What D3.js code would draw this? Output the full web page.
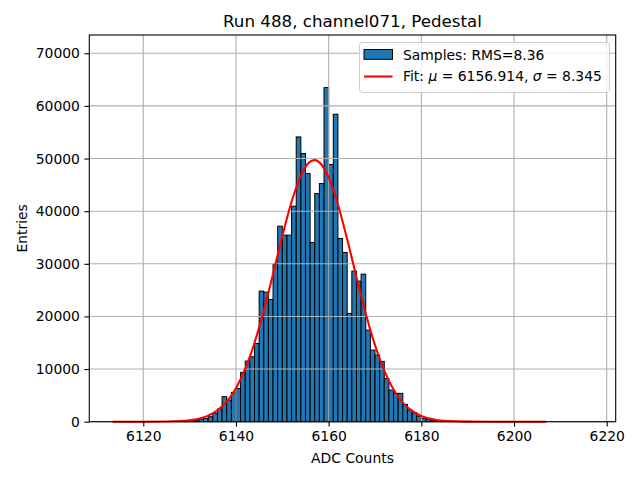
<!DOCTYPE html>
<html>
<head>
<meta charset="utf-8">
<script src="https://cdn.jsdelivr.net/npm/d3@7"></script>
<style>
  body { margin: 0; background: #fff; }
  text { font-family: "DejaVu Sans", sans-serif; fill: #000; }
</style>
</head>
<body>
<svg width="640" height="480"></svg>
<script>
// histogram bins (left edge, width 1 ADC count) and entries
const bins = [6127, 6128, 6129, 6130, 6131, 6132, 6133, 6134, 6135, 6136,
  6137, 6138, 6139, 6140, 6141, 6142, 6143, 6144, 6145, 6146,
  6147, 6148, 6149, 6150, 6151, 6152, 6153, 6154, 6155, 6156,
  6157, 6158, 6159, 6160, 6161, 6162, 6163, 6164, 6165, 6166,
  6167, 6168, 6169, 6170, 6171, 6172, 6173, 6174, 6175, 6176,
  6177, 6178, 6179, 6180, 6181, 6182, 6183, 6184, 6185];
const counts = [50, 80, 130, 190, 320, 440, 630, 950, 1580, 2400,
  4750, 4110, 5570, 6330, 9370, 11520, 12340, 14870, 24810, 24620,
  23230, 29940, 37150, 35440, 35440, 40950, 54110, 50950, 47150, 34050,
  43350, 45250, 63480, 48860, 58420, 34810, 32150, 20570, 28610, 26710,
  28040, 17400, 13610, 12660, 11450, 8200, 6010, 5380, 5380, 3290,
  2215, 1700, 1080, 630, 400, 250, 150, 100, 50];

// fit curve, points
const fitX = [6113.4, 6120, 6125, 6128, 6130, 6132, 6134, 6136, 6138, 6140,
  6142, 6144, 6146, 6148, 6150, 6152, 6154, 6156, 6157, 6158,
  6160, 6162, 6164, 6166, 6168, 6170, 6172, 6174, 6176, 6178,
  6180, 6183, 6186, 6190, 6195, 6207];
const fitY = [0, 3, 33, 123, 274, 580, 1147, 2157, 3800, 6370,
  10066, 15000, 21120, 28080, 35270, 41790, 46760, 49400, 49700, 49280,
  46410, 41270, 34660, 27470, 20570, 14540, 9700, 6110, 3630, 2040,
  1082, 375, 114, 19, 0, 0];

const xTicks = [6120, 6140, 6160, 6180, 6200, 6220];
const yTicks = [0, 10000, 20000, 30000, 40000, 50000, 60000, 70000];

const titleText = "Run 488, channel071, Pedestal";
const samplesLabel = "Samples: RMS=8.36";
const fitMu = "6156.914", fitSigma = "8.345";

const svg = d3.select("svg");
const plotLeft = 89.3, plotRight = 615.7, plotTop = 35, plotBottom = 421.7;

const x = d3.scaleLinear().domain([6108.35, 6221.94]).range([plotLeft, plotRight]);
const y = d3.scaleLinear().domain([0, 73475]).range([plotBottom, plotTop]);

// bars
const hist = bins.map((b, i) => ({ x0: b, x1: b + 1, n: counts[i] }));
svg.append("g")
  .selectAll("rect")
  .data(hist)
  .join("rect")
  .attr("x", d => x(d.x0))
  .attr("y", d => y(d.n))
  .attr("width", d => x(d.x1) - x(d.x0))
  .attr("height", d => y(0) - y(d.n))
  .attr("fill", "#1f77b4")
  .attr("stroke", "#000")
  .attr("stroke-width", 1);

// grid (above bars, below fit line like matplotlib)
const grid = svg.append("g").attr("stroke", "#b0b0b0").attr("stroke-width", 1.1);
xTicks.forEach(t => {
  grid.append("line").attr("x1", x(t)).attr("x2", x(t)).attr("y1", plotTop).attr("y2", plotBottom);
});
yTicks.forEach(t => {
  grid.append("line").attr("x1", plotLeft).attr("x2", plotRight).attr("y1", y(t)).attr("y2", y(t));
});

// fit line
const fitPts = fitX.map((v, i) => [v, fitY[i]]);
svg.append("path")
  .datum(fitPts)
  .attr("d", d3.line().x(d => x(d[0])).y(d => y(d[1])).curve(d3.curveMonotoneX))
  .attr("fill", "none")
  .attr("stroke", "red")
  .attr("stroke-width", 2.1);

// axes
const xAxis = svg.append("g")
  .attr("transform", `translate(0,${plotBottom})`)
  .call(d3.axisBottom(x).tickValues(xTicks).tickSize(4.9).tickPadding(4.5).tickFormat(d3.format("d")));
const yAxis = svg.append("g")
  .attr("transform", `translate(${plotLeft},0)`)
  .call(d3.axisLeft(y).tickValues(yTicks).tickSize(4.9).tickPadding(4.5).tickFormat(d3.format("d")));
[xAxis, yAxis].forEach(a => {
  a.select(".domain").remove();
  a.selectAll("line").attr("stroke", "#000").attr("stroke-width", 1.1);
  a.selectAll("text").attr("font-family", "DejaVu Sans").attr("font-size", 13.9).attr("fill", "#000");
});

// frame
svg.append("rect")
  .attr("x", plotLeft).attr("y", plotTop)
  .attr("width", plotRight - plotLeft).attr("height", plotBottom - plotTop)
  .attr("fill", "none").attr("stroke", "#000").attr("stroke-width", 1.1);

// labels
svg.append("text")
  .attr("x", (plotLeft + plotRight) / 2).attr("y", 27)
  .attr("text-anchor", "middle").attr("font-size", 16.7)
  .text(titleText);
svg.append("text")
  .attr("x", (plotLeft + plotRight) / 2).attr("y", 463)
  .attr("text-anchor", "middle").attr("font-size", 13.9)
  .text("ADC Counts");
svg.append("text")
  .attr("transform", `translate(26.5,${(plotTop + plotBottom) / 2}) rotate(-90)`)
  .attr("text-anchor", "middle").attr("font-size", 13.9)
  .text("Entries");

// legend
const legend = svg.append("g");
legend.append("rect")
  .attr("x", 359.5).attr("y", 42.5).attr("width", 250).attr("height", 50)
  .attr("rx", 3)
  .attr("fill", "#fff").attr("fill-opacity", 0.8)
  .attr("stroke", "#cccccc").attr("stroke-width", 1);
legend.append("rect")
  .attr("x", 364).attr("y", 49.5).attr("width", 28.5).attr("height", 9.8)
  .attr("fill", "#1f77b4").attr("stroke", "#000").attr("stroke-width", 1);
legend.append("text")
  .attr("x", 403).attr("y", 60).attr("font-size", 13.9)
  .text(samplesLabel);
legend.append("line")
  .attr("x1", 364).attr("x2", 392.5).attr("y1", 76.5).attr("y2", 76.5)
  .attr("stroke", "red").attr("stroke-width", 2.1);
const fitText = legend.append("text")
  .attr("x", 403).attr("y", 81).attr("font-size", 13.9);
fitText.append("tspan").text("Fit: ");
fitText.append("tspan").attr("font-style", "italic").text("μ");
fitText.append("tspan").text(" = " + fitMu + ", ");
fitText.append("tspan").attr("font-style", "italic").text("σ");
fitText.append("tspan").text(" = " + fitSigma);
</script>
</body>
</html>
